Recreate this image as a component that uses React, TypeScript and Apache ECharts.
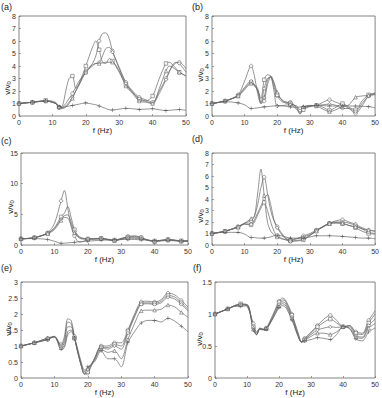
import React, { useEffect, useRef } from "react";
import * as echarts from "echarts";

// ---------- data ----------
const FREQ_A = [0, 4, 8, 11, 12, 13, 14, 15, 16, 17, 18, 20, 22, 23, 24, 25, 26, 27, 28, 30, 32, 34, 36, 38, 40, 42, 44, 45, 46, 47, 48, 50];
const A_CIRCLE = [1.0, 1.1, 1.2, 1.0, 0.65, 0.7, 1.0, 1.4, 1.8, 2.3, 2.8, 3.5, 4.2, 4.8, 6.0, 6.6, 6.65, 6.2, 5.2, 3.9, 2.7, 2.0, 1.5, 1.3, 1.1, 2.0, 3.0, 3.6, 4.0, 4.25, 4.3, 3.8];
const A_SQUARE = [1.0, 1.1, 1.25, 1.1, 0.7, 0.8, 2.0, 3.0, 3.2, 2.2, 2.6, 4.0, 5.5, 6.0, 5.3, 4.3, 4.2, 4.6, 4.4, 3.5, 2.5, 1.9, 1.3, 1.2, 1.6, 3.0, 4.2, 4.3, 4.1, 3.8, 3.5, 3.2];
const A_DIAMOND = [1.0, 1.1, 1.2, 1.0, 0.7, 0.65, 0.8, 1.1, 1.5, 2.0, 2.5, 3.6, 4.1, 4.2, 4.3, 4.8, 5.4, 5.5, 5.1, 3.8, 2.6, 1.9, 1.4, 1.2, 1.0, 1.8, 2.9, 3.5, 4.1, 4.3, 4.2, 3.5];
const A_TRIANGLE = [1.0, 1.1, 1.2, 1.0, 0.75, 0.6, 0.7, 1.0, 1.4, 2.0, 2.5, 3.5, 4.0, 4.2, 4.2, 4.25, 4.3, 4.3, 4.3, 3.6, 2.4, 1.8, 1.2, 1.1, 1.0, 2.2, 3.6, 4.0, 3.9, 3.7, 3.5, 3.2];
const A_PLUS = [1.0, 1.1, 1.2, 1.0, 0.75, 0.7, 0.75, 0.8, 0.85, 0.9, 0.95, 1.05, 0.95, 0.9, 0.8, 0.7, 0.6, 0.5, 0.48, 0.55, 0.62, 0.58, 0.53, 0.55, 0.58, 0.5, 0.43, 0.45, 0.48, 0.5, 0.52, 0.45];

const FREQ_B = [0, 4, 8, 10, 12, 13, 14, 15, 16, 17, 18, 19, 20, 22, 24, 26, 27, 28, 30, 32, 34, 36, 38, 40, 42, 44, 46, 48, 50];
const B_CIRCLE = [1, 1.2, 1.7, 2.8, 4.0, 3.2, 1.8, 1.0, 1.2, 2.5, 3.1, 2.3, 1.6, 1.1, 1.1, 0.6, 0.3, 0.6, 0.8, 0.85, 1.1, 1.3, 1.1, 0.9, 0.6, 0.2, 0.8, 1.6, 1.85];
const B_SQUARE = [1, 1.2, 1.6, 2.2, 2.7, 2.4, 2.1, 1.4, 2.9, 3.3, 3.2, 2.6, 1.7, 1.2, 1.0, 0.7, 0.15, 0.5, 0.75, 0.85, 0.7, 0.45, 0.7, 1.0, 0.7, 0.5, 1.2, 1.7, 1.8];
const B_DIAMOND = [1, 1.2, 1.65, 2.3, 2.8, 2.5, 2.0, 1.1, 2.2, 3.0, 3.1, 2.0, 0.8, 0.85, 0.9, 0.5, 0.2, 0.7, 0.8, 0.85, 0.9, 0.95, 0.85, 0.6, 0.6, 0.35, 1.0, 1.6, 1.75];
const B_TRIANGLE = [1, 1.2, 1.6, 2.1, 2.6, 2.5, 2.2, 1.0, 1.5, 2.8, 3.2, 2.7, 1.9, 1.1, 0.95, 0.8, 0.5, 0.75, 0.85, 0.8, 0.55, 0.35, 0.5, 0.75, 0.9, 1.5, 1.6, 1.65, 1.7];
const B_PLUS = [1, 1.15, 1.05, 0.9, 0.6, 0.62, 0.65, 0.7, 0.73, 0.75, 0.78, 0.8, 0.82, 0.8, 0.72, 0.7, 0.72, 0.75, 0.8, 0.85, 0.83, 0.8, 0.8, 0.8, 0.8, 0.8, 0.78, 0.75, 0.65];

const FREQ_C = [0, 4, 8, 10, 12, 13, 14, 15, 16, 17, 18, 20, 22, 24, 26, 28, 30, 32, 34, 36, 38, 40, 42, 44, 46, 48, 50];
const C_CIRCLE = [1, 1.2, 2.0, 3.5, 7.2, 8.9, 6.0, 3.0, 1.5, 0.6, 0.5, 0.9, 1.0, 1.1, 0.9, 0.7, 1.0, 1.4, 1.5, 1.2, 0.8, 0.6, 0.7, 0.9, 0.8, 0.6, 0.7];
const C_SQUARE = [1, 1.2, 1.9, 2.8, 4.6, 5.2, 6.3, 4.5, 2.5, 1.6, 1.2, 1.0, 1.05, 1.1, 0.95, 0.8, 1.1, 1.3, 1.4, 1.2, 0.8, 0.65, 0.8, 0.9, 0.8, 0.7, 0.7];
const C_DIAMOND = [1, 1.2, 1.9, 2.7, 4.2, 4.8, 4.9, 3.8, 2.2, 1.5, 1.1, 1.0, 1.0, 1.0, 0.9, 0.75, 1.0, 1.2, 1.2, 1.1, 0.8, 0.6, 0.75, 0.85, 0.75, 0.65, 0.65];
const C_TRIANGLE = [1, 1.2, 1.85, 2.5, 4.0, 4.5, 4.4, 3.3, 2.0, 1.3, 1.0, 0.95, 0.95, 1.0, 0.85, 0.7, 0.9, 1.1, 1.1, 1.0, 0.75, 0.55, 0.7, 0.8, 0.7, 0.6, 0.6];
const C_PLUS = [1, 1.05, 0.9, 0.6, 0.3, 0.3, 0.35, 0.4, 0.45, 0.5, 0.55, 0.65, 0.7, 0.8, 0.8, 0.85, 0.9, 0.9, 0.9, 0.85, 0.8, 0.7, 0.7, 0.7, 0.7, 0.65, 0.6];

const FREQ_D = [0, 4, 8, 10, 12, 13, 14, 15, 16, 17, 18, 19, 20, 22, 24, 26, 28, 30, 32, 34, 36, 38, 40, 42, 44, 46, 48, 50];
const D_TRIANGLE = [1, 1.2, 1.55, 1.9, 2.3, 2.5, 4.5, 6.6, 4.3, 2.0, 1.2, 0.9, 0.7, 0.5, 0.5, 0.55, 0.7, 0.9, 1.2, 1.6, 1.85, 1.95, 1.9, 1.7, 1.6, 1.4, 1.3, 1.2];
const D_CIRCLE = [1, 1.2, 1.6, 1.9, 2.1, 2.5, 3.5, 5.0, 5.9, 4.5, 3.0, 2.1, 1.6, 0.8, 0.4, 0.55, 0.8, 1.0, 1.3, 1.6, 1.9, 2.1, 2.2, 2.0, 1.8, 1.5, 1.3, 1.2];
const D_DIAMOND = [1, 1.2, 1.6, 1.85, 1.8, 2.2, 2.8, 3.4, 4.0, 4.4, 3.5, 2.2, 1.5, 0.7, 0.3, 0.4, 0.5, 0.85, 1.25, 1.6, 1.9, 2.0, 2.0, 1.9, 1.7, 1.4, 1.1, 1.0];
const D_SQUARE = [1, 1.2, 1.55, 1.8, 1.75, 2.0, 2.6, 3.2, 3.7, 3.0, 2.0, 1.2, 0.8, 0.5, 0.35, 0.35, 0.45, 0.8, 1.25, 1.55, 1.85, 1.9, 1.85, 1.7, 1.5, 1.2, 1.0, 0.95];
const D_PLUS = [1, 1.1, 1.1, 0.95, 0.65, 0.65, 0.6, 0.6, 0.6, 0.65, 0.7, 0.8, 0.85, 0.75, 0.6, 0.6, 0.6, 0.7, 0.8, 0.8, 0.8, 0.78, 0.75, 0.7, 0.65, 0.6, 0.6, 0.55];

const FREQ_E = [0, 4, 8, 10, 12, 13, 14, 15, 16, 17, 18, 19, 20, 22, 24, 26, 28, 30, 32, 34, 36, 38, 40, 42, 44, 46, 48, 50];
const E_CIRCLE = [1, 1.1, 1.2, 1.3, 1.05, 1.3, 1.85, 1.8, 1.3, 0.8, 0.4, 0.12, 0.15, 0.6, 1.0, 1.0, 1.1, 1.1, 1.5, 2.0, 2.38, 2.4, 2.37, 2.45, 2.65, 2.6, 2.42, 2.22];
const E_SQUARE = [1, 1.1, 1.22, 1.28, 1.0, 1.2, 1.75, 1.7, 1.25, 0.8, 0.4, 0.12, 0.2, 0.6, 0.97, 0.95, 1.05, 1.0, 1.45, 1.95, 2.32, 2.35, 2.33, 2.4, 2.58, 2.53, 2.35, 2.15];
const E_DIAMOND = [1, 1.1, 1.25, 1.28, 0.98, 1.1, 1.6, 1.6, 1.25, 0.8, 0.4, 0.15, 0.25, 0.6, 0.95, 0.9, 1.0, 0.9, 1.4, 1.9, 2.3, 2.32, 2.3, 2.35, 2.52, 2.47, 2.3, 2.1];
const E_TRIANGLE = [1, 1.1, 1.25, 1.3, 0.95, 1.0, 1.45, 1.5, 1.25, 0.85, 0.45, 0.2, 0.3, 0.55, 0.9, 0.8, 0.85, 0.6, 1.2, 1.7, 2.1, 2.12, 2.12, 2.15, 2.28, 2.22, 2.05, 1.9];
const E_PLUS = [1, 1.1, 1.2, 1.3, 0.9, 0.95, 1.35, 1.45, 1.25, 0.9, 0.5, 0.25, 0.35, 0.5, 0.85, 0.6, 0.6, 0.35, 1.1, 1.45, 1.72, 1.8, 1.8, 1.75, 1.87, 1.78, 1.62, 1.45];

const FREQ_F = [0, 4, 6, 8, 10, 12, 13, 14, 15, 16, 18, 20, 21, 22, 24, 26, 27, 28, 30, 32, 34, 36, 38, 40, 42, 44, 46, 48, 50];
const F_CIRCLE = [1, 1.08, 1.12, 1.15, 1.12, 0.85, 0.72, 0.78, 0.76, 0.78, 0.98, 1.2, 1.25, 1.22, 1.0, 0.7, 0.57, 0.62, 0.72, 0.82, 0.92, 0.98, 0.9, 0.8, 0.82, 0.72, 0.7, 0.9, 1.05];
const F_SQUARE = [1, 1.08, 1.13, 1.16, 1.14, 0.8, 0.7, 0.78, 0.76, 0.77, 0.96, 1.18, 1.22, 1.2, 0.98, 0.68, 0.56, 0.6, 0.7, 0.8, 0.87, 0.92, 0.86, 0.8, 0.82, 0.7, 0.68, 0.86, 1.0];
const F_DIAMOND = [1, 1.08, 1.13, 1.15, 1.15, 0.78, 0.68, 0.77, 0.76, 0.77, 0.94, 1.15, 1.19, 1.17, 0.95, 0.66, 0.56, 0.6, 0.68, 0.75, 0.78, 0.8, 0.79, 0.8, 0.8, 0.66, 0.64, 0.82, 0.92];
const F_TRIANGLE = [1, 1.08, 1.12, 1.14, 1.14, 0.76, 0.68, 0.77, 0.76, 0.77, 0.93, 1.12, 1.16, 1.14, 0.93, 0.65, 0.56, 0.59, 0.65, 0.7, 0.7, 0.68, 0.72, 0.8, 0.78, 0.64, 0.62, 0.78, 0.85];
const F_PLUS = [1, 1.08, 1.12, 1.12, 1.13, 0.75, 0.67, 0.76, 0.75, 0.76, 0.92, 1.1, 1.13, 1.11, 0.91, 0.64, 0.56, 0.58, 0.6, 0.63, 0.62, 0.6, 0.68, 0.8, 0.77, 0.61, 0.58, 0.72, 0.78];

const PANEL_LABELS = ["(a)", "(b)", "(c)", "(d)", "(e)", "(f)"];
const Y_MAX = [8, 8, 15, 8, 3, 1.5];
const Y_STEP = [1, 1, 5, 1, 0.5, 0.5];
const X_MAX = 50;
const X_STEP = 10;
const MARKER_STEP = 4;

const PANEL_DATA = [
  { freq: FREQ_A, curves: [A_CIRCLE, A_SQUARE, A_DIAMOND, A_TRIANGLE, A_PLUS] },
  { freq: FREQ_B, curves: [B_CIRCLE, B_SQUARE, B_DIAMOND, B_TRIANGLE, B_PLUS] },
  { freq: FREQ_C, curves: [C_CIRCLE, C_SQUARE, C_DIAMOND, C_TRIANGLE, C_PLUS] },
  { freq: FREQ_D, curves: [D_CIRCLE, D_SQUARE, D_DIAMOND, D_TRIANGLE, D_PLUS] },
  { freq: FREQ_E, curves: [E_CIRCLE, E_SQUARE, E_DIAMOND, E_TRIANGLE, E_PLUS] },
  { freq: FREQ_F, curves: [F_CIRCLE, F_SQUARE, F_DIAMOND, F_TRIANGLE, F_PLUS] },
];

// ---------- layout / style ----------
const LAYOUT = [
  { left: 19, top: 16, width: 167, height: 100, lx: 1, ly: 7, yx: 7, yy: 88 },
  { left: 212, top: 16, width: 167, height: 100, lx: 192, ly: 7, yx: 200, yy: 75 },
  { left: 21, top: 153, width: 167, height: 92, lx: 1, ly: 141, yx: 10, yy: 207 },
  { left: 212, top: 153, width: 167, height: 92, lx: 192, ly: 139, yx: 200, yy: 216 },
  { left: 21, top: 282, width: 167, height: 96, lx: 1, ly: 268, yx: 8, yy: 329 },
  { left: 215, top: 282, width: 164, height: 96, lx: 193, ly: 268, yx: 199, yy: 339 },
];

const FONT = "Liberation Sans, Arial, sans-serif";
const LINE_COLOR = "#666";
const MARK_COLOR = "#444";
const PLUS_PATH = "path://M4.3,0H5.7V4.3H10V5.7H5.7V10H4.3V5.7H0V4.3H4.3Z";
const SYMBOLS = ["circle", "rect", "diamond", "triangle", PLUS_PATH];

function buildOption() {
  const grid: any[] = [];
  const xAxis: any[] = [];
  const yAxis: any[] = [];
  const series: any[] = [];
  const graphic: any[] = [];

  PANEL_DATA.forEach((p, i) => {
    const L = LAYOUT[i];
    grid.push({
      left: L.left,
      top: L.top,
      width: L.width,
      height: L.height,
      show: true,
      borderColor: "#666",
      borderWidth: 0.8,
      backgroundColor: "transparent",
    });
    xAxis.push({
      type: "value",
      gridIndex: i,
      min: 0,
      max: X_MAX,
      interval: X_STEP,
      name: "f (Hz)",
      nameLocation: "middle",
      nameGap: 9,
      nameTextStyle: { fontSize: 8, fontFamily: FONT, color: "#222", verticalAlign: "top" },
      axisLine: { show: false },
      axisTick: { show: true, inside: true, length: 2, lineStyle: { color: "#666", width: 0.6 } },
      axisLabel: { fontSize: 7, fontFamily: FONT, color: "#333", margin: 3 },
      splitLine: { show: false },
    });
    yAxis.push({
      type: "value",
      gridIndex: i,
      min: 0,
      max: Y_MAX[i],
      interval: Y_STEP[i],
      axisLine: { show: false },
      axisTick: { show: true, inside: true, length: 2, lineStyle: { color: "#666", width: 0.6 } },
      axisLabel: { fontSize: 7, fontFamily: FONT, color: "#333", margin: 3 },
      splitLine: { show: false },
    });

    p.curves.forEach((vals, k) => {
      const pts = p.freq.map((f, j) => [f, vals[j]]);
      series.push({
        type: "line",
        xAxisIndex: i,
        yAxisIndex: i,
        data: pts,
        showSymbol: false,
        smooth: 0.3,
        lineStyle: { color: LINE_COLOR, width: 0.7 },
        silent: true,
        z: 2,
      });
      const marks = pts.filter((pt) => pt[0] % MARKER_STEP === 0);
      const isPlus = k === 4;
      series.push({
        type: "scatter",
        xAxisIndex: i,
        yAxisIndex: i,
        data: marks,
        symbol: SYMBOLS[k],
        symbolSize: isPlus ? 4 : 3.5,
        itemStyle: isPlus
          ? { color: MARK_COLOR }
          : { color: "#fff", borderColor: MARK_COLOR, borderWidth: 0.6 },
        silent: true,
        z: 3,
      });
    });

    graphic.push({
      type: "text",
      left: L.lx,
      top: L.ly - 5,
      style: { text: PANEL_LABELS[i], fontSize: 9, fontFamily: FONT, fill: "#222" },
    });
    graphic.push({
      type: "text",
      x: L.yx,
      y: L.yy,
      rotation: Math.PI / 2,
      style: {
        text: "{a|v/v}{s|0}",
        align: "center",
        verticalAlign: "middle",
        fill: "#222",
        rich: {
          a: { fontSize: 8, fontFamily: FONT, fill: "#222" },
          s: { fontSize: 6, fontFamily: FONT, fill: "#222", padding: [4, 0, 0, 0] },
        },
      },
    });
  });

  return {
    animation: false,
    backgroundColor: "#fff",
    grid,
    xAxis,
    yAxis,
    series,
    graphic,
  };
}

export default function App() {
  const ref = useRef<HTMLDivElement>(null);
  useEffect(() => {
    if (!ref.current) return;
    const chart = echarts.init(ref.current, null, { renderer: "svg" });
    chart.setOption(buildOption() as any);
    return () => chart.dispose();
  }, []);
  return (
    <div
      ref={ref}
      style={{ width: 382, height: 398, position: "absolute", left: 0, top: 0 }}
    />
  );
}
